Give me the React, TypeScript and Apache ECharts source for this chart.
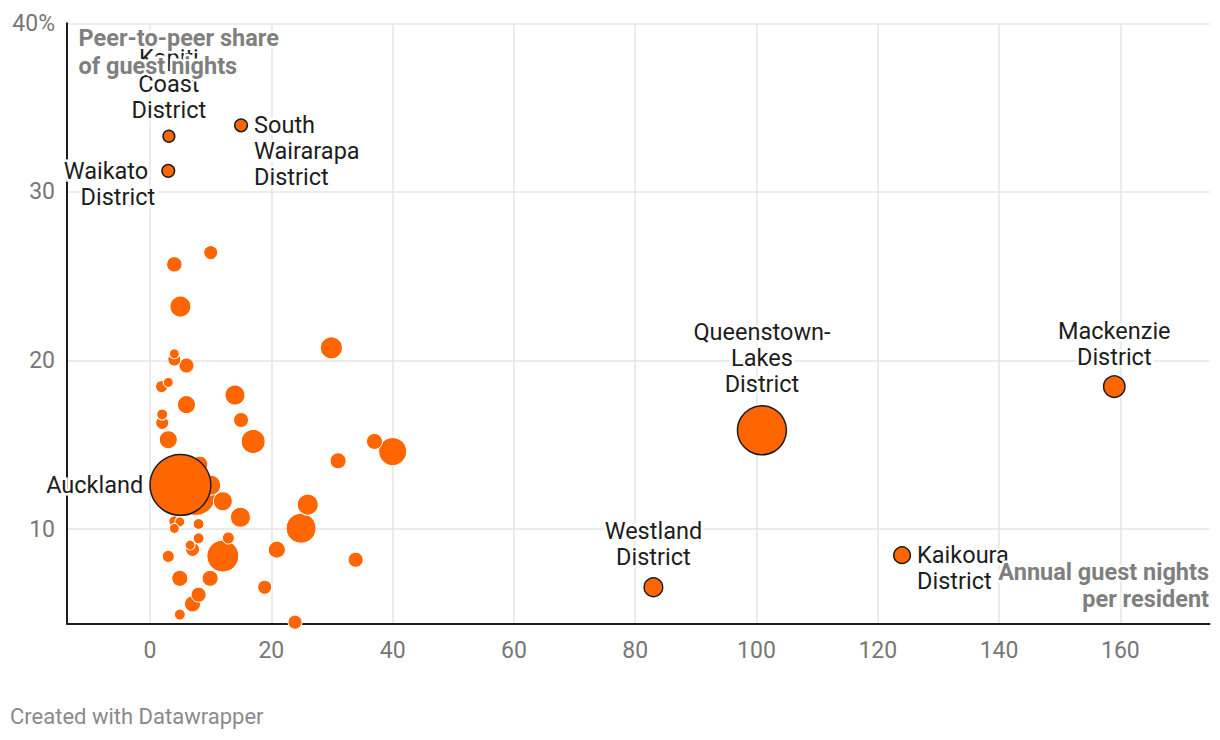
import React, { useEffect, useRef } from "react";
import * as echarts from "echarts";

// X: annual guest nights per resident; Y: peer-to-peer share of guest nights (%);
// size: total annual guest nights (thousands, estimated)
const xTicks = [0, 20, 40, 60, 80, 100, 120, 140, 160];
const yTicks = [10, 20, 30, 40];

const labeledNames = [
  "Auckland",
  "Queenstown-Lakes District",
  "Mackenzie District",
  "Westland District",
  "Kaikoura District",
  "Kapiti Coast District",
  "Waikato District",
  "South Wairarapa District",
];
const labeledText = [
  "Auckland",
  "Queenstown-\nLakes\nDistrict",
  "Mackenzie\nDistrict",
  "Westland\nDistrict",
  "Kaikoura\nDistrict",
  "Kapiti\nCoast\nDistrict",
  "Waikato\nDistrict",
  "South\nWairarapa\nDistrict",
];
const labeledNightsPerResident = [5.0, 100.9, 159.0, 83.0, 124.0, 3.1, 3.0, 15.0];
const labeledP2PShare = [12.62, 15.86, 18.45, 6.55, 8.45, 33.3, 31.25, 33.95];
const labeledGuestNights = [6730, 4370, 830, 630, 500, 250, 290, 290];

const otherNightsPerResident = [
  7.5, 12.0, 24.9, 40.0, 17.0, 29.9, 5.0, 26.0, 14.0, 14.9, 12.0, 10.0, 8.2, 3.0, 6.0,
  6.0, 4.0, 10.0, 15.0, 2.0, 2.0, 1.9, 3.0, 4.0, 4.0, 31.0, 37.0, 20.9, 33.9, 18.9,
  23.9, 12.9, 4.0, 4.9, 4.0, 8.0, 8.0, 7.0, 6.6, 3.0, 4.9, 9.9, 8.0, 7.0, 4.9,
];
const otherP2PShare = [
  12.0, 8.4, 10.05, 14.6, 15.2, 20.75, 23.2, 11.45, 17.95, 10.7, 11.65, 12.6, 13.85, 15.3, 17.38,
  19.7, 25.7, 26.4, 16.47, 16.3, 16.8, 18.45, 18.7, 20.06, 20.4, 14.05, 15.2, 8.78, 8.18, 6.55,
  4.48, 9.47, 10.46, 10.43, 10.04, 10.3, 9.45, 8.8, 9.05, 8.38, 7.08, 7.08, 6.11, 5.56, 4.93,
];
const otherGuestNights = [
  2914, 1865, 1639, 1428, 1049, 881, 803, 803, 728, 728, 657, 728, 466, 590, 590,
  410, 430, 357, 410, 308, 220, 262, 182, 308, 182, 466, 466, 526, 410, 357,
  357, 262, 220, 182, 182, 220, 220, 357, 182, 262, 466, 466, 410, 466, 220,
];

const ORANGE = "#ff6600";
const FONT = "Roboto, 'Noto Sans', sans-serif";
const LABEL_SIZE = 23.5;
const TICK_SIZE = 23;

const labelPlacement: Record<string, any> = {
  Auckland: { position: "left", distance: 6 },
  "Queenstown-Lakes District": { position: "top", distance: 8 },
  "Mackenzie District": { position: "top", distance: 5 },
  "Westland District": { position: "top", distance: 7 },
  "Kaikoura District": { position: "right", distance: 6, offset: [0, 13] },
  "Kapiti Coast District": { position: "top", distance: 7 },
  "Waikato District": { position: "left", distance: 6, offset: [0, 13] },
  "South Wairarapa District": { position: "right", distance: 6, offset: [0, 26] },
};

const sizeOf = (v: number) => 62 * Math.sqrt(v / 7000);

export default function App() {
  const ref = useRef<HTMLDivElement>(null);

  useEffect(() => {
    if (!ref.current) return;
    const chart = echarts.init(ref.current, null, { renderer: "svg" });

    const others = otherNightsPerResident
      .map((x, i) => [x, otherP2PShare[i], otherGuestNights[i]])
      .sort((a, b) => b[2] - a[2]);

    const textStyle = {
      fontSize: LABEL_SIZE,
      lineHeight: 26,
      fontFamily: FONT,
      color: "#1d1d1d",
      textBorderColor: "#fff",
      textBorderWidth: 5,
    };

    const labeled = labeledNames.map((name, i) => {
      const text = labeledText[i];
      const isWaikato = name === "Waikato District";
      return {
        name,
        value: [labeledNightsPerResident[i], labeledP2PShare[i], labeledGuestNights[i]],
        label: {
          show: true,
          ...textStyle,
          ...labelPlacement[name],
          formatter: isWaikato ? "{a|Waikato}\n{b|District}" : text,
          rich: isWaikato
            ? {
                a: { ...textStyle, padding: [0, 7, 0, 0] },
                b: { ...textStyle },
              }
            : undefined,
        },
      };
    });

    chart.setOption({
      animation: false,
      backgroundColor: "#fff",
      grid: { left: 67, right: 10.5, top: 23.3, bottom: 116.5, outerBoundsMode: "none" },
      xAxis: {
        type: "value",
        min: -13.7,
        max: 174.7,
        axisLine: { show: true, onZero: false, lineStyle: { color: "#1d1d1d", width: 2 } },
        axisTick: { show: false, customValues: xTicks },
        axisLabel: { customValues: xTicks, fontSize: TICK_SIZE, color: "#777", margin: 15, fontFamily: FONT },
        splitLine: { show: true, lineStyle: { color: "#e5e5e5", width: 1.5 } },
      },
      yAxis: {
        type: "value",
        min: 4.4,
        max: 40,
        axisLine: { show: true, onZero: false, lineStyle: { color: "#1d1d1d", width: 2 } },
        axisTick: { show: false, customValues: yTicks },
        axisLabel: {
          customValues: yTicks,
          fontSize: TICK_SIZE,
          color: "#777",
          margin: 12,
          fontFamily: FONT,
          formatter: (v: number) => (v === 40 ? "40%" : String(v)),
        },
        splitLine: { show: true, lineStyle: { color: "#e5e5e5", width: 1.5 } },
      },
      series: [
        {
          type: "scatter",
          z: 2,
          data: others,
          symbolSize: (val: number[]) => sizeOf(val[2]),
          itemStyle: { color: ORANGE, opacity: 1, borderColor: "#fff", borderWidth: 1 },
          emphasis: { disabled: true },
        },
        {
          type: "scatter",
          z: 3,
          data: labeled,
          symbolSize: (val: number[]) => sizeOf(val[2]),
          itemStyle: { color: ORANGE, opacity: 1, borderColor: "#1d1d1d", borderWidth: 1.5 },
          emphasis: { disabled: true },
        },
      ],
      graphic: [
        {
          type: "text",
          left: 76,
          top: 23,
          z: 100,
          style: {
            text: "Peer-to-peer share\nof guest nights",
            font: `bold 23.5px ${FONT}`,
            fill: "#7f7f7f",
            lineHeight: 28,
            stroke: "#fff",
            lineWidth: 5,
          },
        },
        {
          type: "text",
          right: 8.5,
          top: 557,
          z: 100,
          style: {
            text: "Annual guest nights",
            font: `bold 23.5px ${FONT}`,
            fill: "#7f7f7f",
            lineHeight: 28,
            stroke: "#fff",
            lineWidth: 5,
          },
        },
        {
          type: "text",
          right: 8.5,
          top: 584,
          z: 100,
          style: {
            text: "per resident",
            font: `bold 23.5px ${FONT}`,
            fill: "#7f7f7f",
            lineHeight: 28,
            stroke: "#fff",
            lineWidth: 5,
          },
        },
        {
          type: "text",
          left: 10,
          top: 705,
          z: 100,
          style: {
            text: "Created with Datawrapper",
            font: `22px ${FONT}`,
            fill: "#8a8a8a",
          },
        },
      ],
    });

    return () => chart.dispose();
  }, []);

  return (
    <div
      ref={ref}
      style={{ position: "fixed", left: 0, top: 0, width: 1220, height: 740, background: "#fff" }}
    />
  );
}
